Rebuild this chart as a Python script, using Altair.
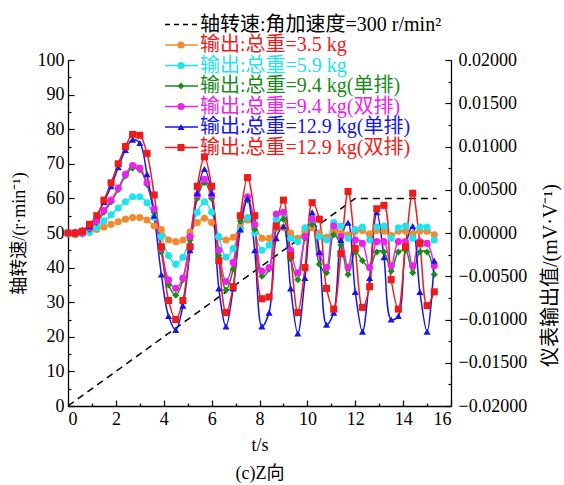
import altair as alt
import pandas as pd

# ---------------- data ----------------
time_s = [0.0, 0.3, 0.6, 0.9, 1.2, 1.5, 1.8, 2.1, 2.4, 2.7, 3.0, 3.3, 3.6, 3.9, 4.2,
          4.5, 4.8, 5.1, 5.4, 5.7, 6.0, 6.3, 6.6, 6.9, 7.2, 7.5, 7.8, 8.1, 8.4, 8.7,
          9.0, 9.3, 9.6, 9.9, 10.2, 10.5, 10.8, 11.1, 11.4, 11.7, 12.0, 12.3, 12.6,
          12.9, 13.2, 13.5, 13.8, 14.1, 14.4, 14.7, 15.0, 15.3]

out_3_5 = [0, -0.0002, -0.0001, 0.0001, 0.0004, 0.0007, 0.0010, 0.0013, 0.0016, 0.0018,
           0.0018, 0.0015, 0.0008, 0.0004, -0.0008, -0.0010, -0.0008, 0.0001, 0.0012, 0.0017,
           0.0012, -0.0005, -0.0008, -0.0005, 0.0007, 0.0015, 0.0009, -0.0006, -0.0006, 0.0006,
           0.0006, 0, -0.0006, 0.0002, 0.0006, 0, -0.0005, 0.0001, 0, -0.0002,
           0.0002, 0.0003, -0.0001, 0.0003, 0.0002, -0.0003, 0.0002, 0.0002, -0.0001, 0.0002,
           0.0002, -0.0002]
out_5_9 = [0, -0.0001, -0.0001, 0.0001, 0.0006, 0.0014, 0.0021, 0.0029, 0.0036, 0.0042,
           0.0042, 0.0035, 0.0018, -0.0004, -0.0026, -0.0036, -0.0028, -0.0004, 0.0024, 0.0036,
           0.0024, -0.0004, -0.0028, -0.0018, 0.0004, 0.0018, 0, -0.0020, -0.0014, 0.0016,
           0.0022, -0.0006, -0.0010, 0.0006, 0.0012, -0.0004, -0.0008, 0.0012, 0.0008, -0.0006,
           0.0004, 0.0007, -0.0008, 0.0007, 0.0008, -0.0006, 0.0006, 0.0008, -0.0006, 0.0007,
           0.0007, -0.0008]
out_9_4_single = [0, -0.0001, 0, 0.0004, 0.0012, 0.0024, 0.0036, 0.0050, 0.0066, 0.0075,
                  0.0073, 0.0056, 0.0024, -0.0022, -0.0060, -0.0072, -0.0054, -0.0008, 0.0040, 0.0058,
                  0.0040, -0.0026, -0.0066, -0.0042, 0.0014, 0.0038, 0.0004, -0.0050, -0.0042, 0.0006,
                  0.0016, -0.0030, -0.0054, -0.0006, 0.0010, -0.0036, -0.0046, -0.0002, -0.0014, -0.0048,
                  -0.0022, -0.0032, -0.0040, -0.0022, -0.0022, -0.0044, -0.0022, -0.0020, -0.0046, -0.0022,
                  -0.0022, -0.0048]
out_9_4_double = [0, 0, 0, 0.0006, 0.0014, 0.0026, 0.0038, 0.0052, 0.0068, 0.0078,
                  0.0075, 0.0058, 0.0028, -0.0018, -0.0054, -0.0064, -0.0052, -0.0004, 0.0044, 0.0062,
                  0.0044, -0.0020, -0.0056, -0.0034, 0.0020, 0.0042, 0.0010, -0.0044, -0.0040, 0.0022,
                  0.0024, -0.0020, -0.0046, -0.0004, 0.0016, -0.0024, -0.0040, 0.0008, -0.0004, -0.0040,
                  -0.0008, -0.0012, -0.0040, -0.0010, -0.0010, -0.0038, -0.0010, -0.0010, -0.0038, -0.0010,
                  -0.0012, -0.0038]
out_12_9_single = [0, 0.0002, 0.0004, 0.0008, 0.0020, 0.0036, 0.0054, 0.0076, 0.0096, 0.0108,
                   0.0104, 0.0068, 0.0020, -0.0048, -0.0096, -0.0112, -0.0084, -0.0020, 0.0046, 0.0074,
                   0.0046, -0.0064, -0.0108, -0.0064, 0.0004, 0.0040, -0.0020, -0.0108, -0.0092, -0.0006,
                   0.0008, -0.0064, -0.0116, -0.0052, 0.0024, -0.0022, -0.0106, -0.0092, -0.0008, 0.0012,
                   -0.0068, -0.0114, -0.0052, 0.0024, -0.0028, -0.0100, -0.0096, -0.0016, 0.0008, -0.0068,
                   -0.0114, -0.0032]
out_12_9_double = [0, 0, 0.0002, 0.0010, 0.0020, 0.0038, 0.0058, 0.0080, 0.0100, 0.0114,
                   0.0113, 0.0092, 0.0044, -0.0016, -0.0078, -0.0100, -0.0078, -0.0016, 0.0054, 0.0088,
                   0.0054, -0.0032, -0.0092, -0.0062, 0.0020, 0.0064, 0.0020, -0.0076, -0.0074, 0.0008,
                   0.0038, -0.0026, -0.0092, -0.0040, 0.0035, 0.0016, -0.0064, -0.0088, -0.0024, 0.0048,
                   -0.0018, -0.0086, -0.0062, 0.0028, 0.0032, -0.0054, -0.0088, -0.0016, 0.0046, -0.0012,
                   -0.0084, -0.0068]

speed_t = [0.0, 12.0, 15.4]
speed_v = [0, 60, 60]

series_names = ["3.5 kg", "5.9 kg", "9.4 kg(单排)", "9.4 kg(双排)", "12.9 kg(单排)", "12.9 kg(双排)"]
series_values = [out_3_5, out_5_9, out_9_4_single, out_9_4_double, out_12_9_single, out_12_9_double]
series_colors = ["#F28A2E", "#1FE3EE", "#1B8B1B", "#EC22EC", "#1616E8", "#EE1B1B"]
series_shapes = ["circle", "circle", "diamond", "circle", "triangle-up", "square"]

legend_labels = ["轴转速:角加速度=300 r/min²",
                 "输出:总重=3.5 kg", "输出:总重=5.9 kg", "输出:总重=9.4 kg(单排)",
                 "输出:总重=9.4 kg(双排)", "输出:总重=12.9 kg(单排)", "输出:总重=12.9 kg(双排)"]
legend_text_colors = ["#000000", "#EE1B1B", "#1FE3EE", "#1B8B1B", "#EC22EC", "#1616E8", "#EE1B1B"]

# ---------------- tables ----------------
rows = []
for name, vals in zip(series_names, series_values):
    assert len(vals) == len(time_s), name
    for t, v in zip(time_s, vals):
        rows.append({"t": t, "v": v, "series": name})
out_df = pd.DataFrame(rows)
speed_df = pd.DataFrame({"t": speed_t, "v": speed_v})

leg_df = pd.DataFrame({
    "row": list(range(len(legend_labels))),
    "label": legend_labels,
    "tcol": legend_text_colors,
    "scol": ["#000000"] + series_colors,
    "shape": ["none"] + series_shapes,
})

FONT = "Times New Roman, Liberation Serif, Noto Sans CJK SC"
W, H = 383, 346
XDOM = [0, 16]
LDOM = [0, 100]
RDOM = [-0.02, 0.02]

axis_common = dict(grid=False, domainColor="#000000", domainWidth=1.3, tickColor="#000000",
                   tickWidth=1.2, labelFont=FONT, labelFontSize=18, labelColor="#000000",
                   titleFont=FONT, titleColor="#000000", titleFontWeight="normal")

def xs(axis):
    return alt.X("t:Q", scale=alt.Scale(domain=XDOM, nice=False, zero=False), axis=axis)

col_scale = alt.Scale(domain=series_names, range=series_colors)
shape_scale = alt.Scale(domain=series_names, range=series_shapes)

# dashed speed line with main bottom + left axes
speed = alt.Chart(speed_df).mark_line(color="#000000", strokeDash=[7, 5], strokeWidth=1.5).encode(
    x=xs(alt.Axis(orient="bottom", values=list(range(0, 17, 2)), tickSize={"expr": "-6"},
                  labelPadding=10, title=["t/s", "(c)Z向"], titleFontSize=18, titleLineHeight=28,
                  titlePadding=8, **axis_common)),
    y=alt.Y("v:Q", scale=alt.Scale(domain=LDOM, nice=False),
            axis=alt.Axis(orient="left", values=list(range(0, 101, 10)), tickSize={"expr": "-6"},
                          labelPadding=10, title="轴转速/(r·min⁻¹)", titleFontSize=18,
                          titlePadding=9, **axis_common)),
)

# minor ticks (left + bottom)
minor_lb = alt.Chart(speed_df).mark_point(opacity=0).encode(
    x=xs(alt.Axis(orient="bottom", values=list(range(1, 16, 2)), tickSize={"expr": "-3"},
                  labels=False, domain=False, title=None, grid=False, tickColor="#000000", tickWidth=1.2)),
    y=alt.Y("v:Q", scale=alt.Scale(domain=LDOM, nice=False),
            axis=alt.Axis(orient="left", values=list(range(5, 100, 10)), tickSize={"expr": "-3"},
                          labels=False, domain=False, title=None, grid=False, tickColor="#000000", tickWidth=1.2)),
)

lines = alt.Chart(out_df).mark_line(strokeWidth=1.5, interpolate="catmull-rom").encode(
    x=xs(None),
    y=alt.Y("v:Q", scale=alt.Scale(domain=RDOM, nice=False),
            axis=alt.Axis(orient="right", values=[-0.02, -0.015, -0.01, -0.005, 0, 0.005, 0.01, 0.015, 0.02],
                          format=".5f", tickSize={"expr": "-6"}, labelPadding=13,
                          title="仪表输出值/(mV·V⁻¹)", titleFontSize=20, titleAngle=270,
                          titleX=99, titleY=215, titleBaseline="middle", titleAlign="center",
                          **axis_common)),
    color=alt.Color("series:N", scale=col_scale, legend=None),
    detail="series:N",
)

minor_r = alt.Chart(out_df).mark_point(opacity=0).encode(
    x=xs(None),
    y=alt.Y("v:Q", scale=alt.Scale(domain=RDOM, nice=False),
            axis=alt.Axis(orient="right", values=[-0.0175, -0.0125, -0.0075, -0.0025, 0.0025, 0.0075, 0.0125, 0.0175],
                          tickSize={"expr": "-3"}, labels=False, domain=False, title=None, grid=False,
                          tickColor="#000000", tickWidth=1.2)),
)

points = alt.Chart(out_df).mark_point(filled=True, opacity=1, size=50).encode(
    x=xs(None),
    y=alt.Y("v:Q", scale=alt.Scale(domain=RDOM, nice=False), axis=None),
    color=alt.Color("series:N", scale=col_scale, legend=None),
    shape=alt.Shape("series:N", scale=shape_scale, legend=None),
)

# ---------------- legend (manual) ----------------
leg = alt.Chart(leg_df).transform_calculate(ly="datum.row * 20.5 - 35.5")
leg_dash = leg.transform_filter("datum.row == 0").mark_rule(color="#000000", strokeWidth=1.5, strokeDash=[5, 4]).encode(
    x=alt.value(97), x2=alt.value(130), y=alt.Y("ly:Q", scale=None))
leg_rule = leg.transform_filter("datum.row > 0").mark_rule(strokeWidth=1.5).encode(
    x=alt.value(97), x2=alt.value(130), y=alt.Y("ly:Q", scale=None), color=alt.Color("scol:N", scale=None))
leg_pt = leg.transform_filter("datum.row > 0").mark_point(filled=True, opacity=1, size=50).encode(
    x=alt.value(113), y=alt.Y("ly:Q", scale=None), color=alt.Color("scol:N", scale=None),
    shape=alt.Shape("shape:N", scale=None))
leg_txt = leg.mark_text(align="left", baseline="middle", font=FONT, fontSize=20).encode(
    x=alt.value(132), y=alt.Y("ly:Q", scale=None), text="label:N", color=alt.Color("tcol:N", scale=None))

chart = alt.layer(speed, minor_lb, lines, minor_r, points, leg_dash, leg_rule, leg_pt, leg_txt).resolve_scale(
    x="independent", y="independent"
).properties(
    width=W, height=H, autosize="none",
    padding={"left": 68, "top": 60, "right": 113, "bottom": 79},
    background="#ffffff",
).configure_view(stroke="transparent")

chart.save("out.html", embed_options={"renderer": "svg", "actions": False})
